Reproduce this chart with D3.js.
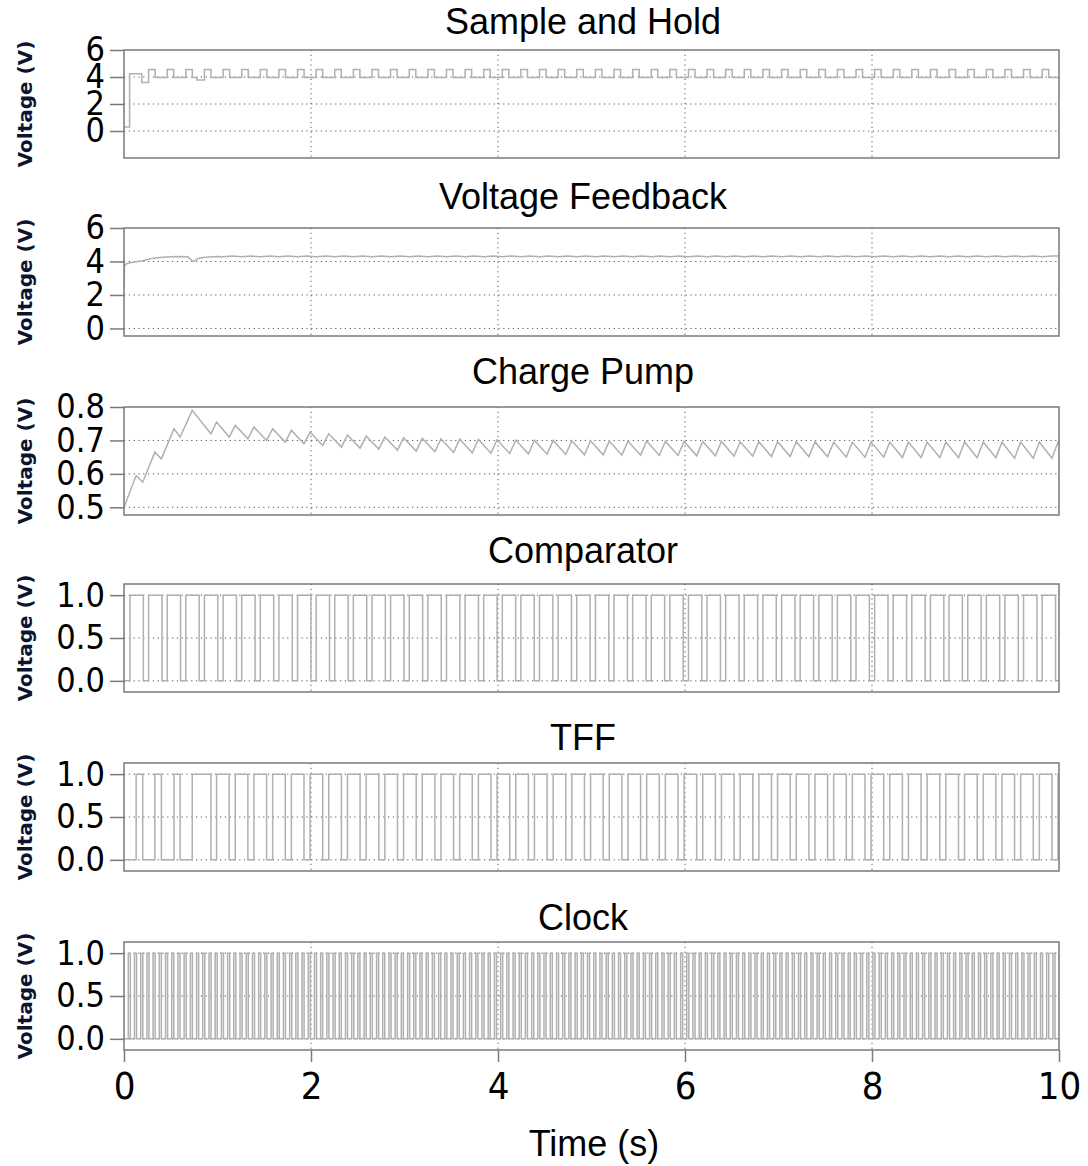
<!DOCTYPE html>
<html lang="en">
<head>
<meta charset="utf-8">
<title>Simulation traces</title>
<script src="https://d3js.org/d3.v7.min.js"></script>
<style>
  body { margin: 0; background: #fff; }
  .title { font-family: "Liberation Sans", Arial, sans-serif; font-size: 36px; fill: #000; text-anchor: middle; }
  .ylabel { font-family: "DejaVu Sans", Verdana, sans-serif; font-weight: bold; font-size: 20px; fill: #0b1530; text-anchor: middle; }
  .axis text { font-family: "DejaVu Sans Condensed", "DejaVu Sans", sans-serif; font-size: 34px; fill: #000; }
  .axis line { stroke: #7a7a7a; stroke-width: 1.5; }
  .axis path { display: none; }
  .grid { stroke: #555; stroke-width: 1; stroke-dasharray: 1.2,3.6; }
  .frame { fill: none; stroke: #7a7a7a; stroke-width: 1.5; }
  .signal { fill: none; stroke: #b0b0b0; stroke-width: 1.5; }
</style>
</head>
<body>
<script>

// Panel titles, axis ticks
var panelTitles = ["Sample and Hold", "Voltage Feedback", "Charge Pump", "Comparator", "TFF", "Clock"];
var timeTicks = [0, 2, 4, 6, 8, 10];
var yTickSets = [[0, 2, 4, 6], [0, 2, 4, 6], [0.5, 0.6, 0.7, 0.8], [0, 0.5, 1], [0, 0.5, 1], [0, 0.5, 1]];
var yDomains = [[-2, 6], [-0.45, 6], [0.477, 0.8], [-0.13, 1.13], [-0.13, 1.13], [-0.13, 1.13]];

// Comparator: rising edges (s) and time spent high
var comparatorRise = [0.064, 0.263, 0.462, 0.661, 0.860, 1.060, 1.259, 1.458, 1.657, 1.856,
  2.055, 2.254, 2.453, 2.652, 2.851, 3.051, 3.250, 3.449, 3.648, 3.847,
  4.046, 4.245, 4.444, 4.643, 4.842, 5.042, 5.241, 5.440, 5.639, 5.838,
  6.037, 6.236, 6.435, 6.634, 6.833, 7.033, 7.232, 7.431, 7.630, 7.829,
  8.028, 8.227, 8.426, 8.625, 8.824, 9.024, 9.223, 9.422, 9.621, 9.820];
var comparatorHigh = 0.143;

// Clock: rising edges (s) and pulse width
var clockRise = [0.046, 0.112, 0.179, 0.245, 0.311, 0.378, 0.444, 0.511, 0.577, 0.643, 0.710, 0.776,
  0.842, 0.909, 0.975, 1.042, 1.108, 1.174, 1.241, 1.307, 1.374, 1.440, 1.506, 1.573,
  1.639, 1.705, 1.772, 1.838, 1.904, 1.971, 2.037, 2.103, 2.170, 2.236, 2.302, 2.369,
  2.435, 2.501, 2.568, 2.634, 2.701, 2.767, 2.834, 2.900, 2.966, 3.033, 3.099, 3.165,
  3.232, 3.298, 3.365, 3.431, 3.497, 3.564, 3.630, 3.696, 3.763, 3.829, 3.895, 3.962,
  4.028, 4.094, 4.161, 4.227, 4.293, 4.360, 4.426, 4.492, 4.559, 4.626, 4.692, 4.758,
  4.825, 4.891, 4.957, 5.024, 5.090, 5.157, 5.223, 5.289, 5.356, 5.422, 5.488, 5.555,
  5.621, 5.687, 5.754, 5.820, 5.886, 5.953, 6.019, 6.085, 6.152, 6.218, 6.285, 6.351,
  6.418, 6.484, 6.550, 6.617, 6.683, 6.749, 6.816, 6.882, 6.949, 7.015, 7.081, 7.148,
  7.214, 7.280, 7.347, 7.413, 7.479, 7.546, 7.612, 7.678, 7.745, 7.811, 7.877, 7.944,
  8.010, 8.077, 8.143, 8.210, 8.276, 8.342, 8.409, 8.475, 8.541, 8.608, 8.674, 8.741,
  8.807, 8.873, 8.940, 9.006, 9.072, 9.139, 9.205, 9.271, 9.338, 9.404, 9.470, 9.537,
  9.603, 9.669, 9.736, 9.802, 9.868, 9.935];
var clockHigh = 0.022;

// TFF edges (s)
var tffRise = [0.13, 0.33, 0.535, 0.73, 0.99, 1.19, 1.39, 1.59, 1.79, 1.99, 2.19, 2.39, 2.59, 2.79,
  2.99, 3.19, 3.39, 3.59, 3.79, 3.99, 4.19, 4.39, 4.59, 4.79, 4.99, 5.19, 5.39, 5.59, 5.79,
  5.99, 6.19, 6.39, 6.59, 6.79, 6.99, 7.19, 7.39, 7.59, 7.79, 7.99, 8.19, 8.39, 8.59, 8.79,
  8.99, 9.19, 9.39, 9.59, 9.79, 9.99];
var tffFall = [0.2, 0.4, 0.6, 0.93, 1.125, 1.325, 1.525, 1.725, 1.925, 2.125, 2.325, 2.525, 2.725,
  2.925, 3.125, 3.325, 3.525, 3.725, 3.925, 4.125, 4.325, 4.525, 4.725, 4.925, 5.125, 5.325,
  5.525, 5.725, 5.925, 6.125, 6.325, 6.525, 6.725, 6.925, 7.125, 7.325, 7.525, 7.725, 7.925,
  8.125, 8.325, 8.525, 8.725, 8.925, 9.125, 9.325, 9.525, 9.725, 9.925];

// Charge pump: value at each TFF rise (peaks) and fall (troughs), V
var pumpStart = 0.5;
var pumpPeak = [0.595, 0.665, 0.735, 0.79, 0.755, 0.745, 0.74, 0.735, 0.73, 0.725, 0.72, 0.716,
  0.713, 0.71, 0.708, 0.706, 0.705, 0.704, 0.703, 0.702, 0.701, 0.70, 0.70, 0.699, 0.699,
  0.698, 0.698, 0.698, 0.697, 0.697, 0.697, 0.697, 0.696, 0.696, 0.696, 0.696, 0.696, 0.695,
  0.695, 0.695, 0.695, 0.695, 0.695, 0.695, 0.695, 0.695, 0.695, 0.695, 0.695, 0.695];
var pumpTrough = [0.575, 0.645, 0.71, 0.72, 0.71, 0.705, 0.70, 0.695, 0.69, 0.685, 0.68, 0.677,
  0.674, 0.671, 0.668, 0.666, 0.664, 0.663, 0.662, 0.661, 0.66, 0.659, 0.658, 0.657, 0.657,
  0.656, 0.656, 0.655, 0.655, 0.654, 0.654, 0.653, 0.653, 0.652, 0.652, 0.651, 0.651, 0.65,
  0.65, 0.65, 0.649, 0.649, 0.649, 0.648, 0.648, 0.648, 0.647, 0.647, 0.647];
var pumpEnd = 0.692;

// Sample and hold: start-up steps, then top level held after each comparator rise
var holdStartTimes = [0, 0.06, 0.19, 0.78];
var holdStartValues = [0.3, 4.25, 3.6, 3.78];
var holdTop = 4.55, holdLow = 3.97, holdTopWidth = 0.07;

// Voltage feedback: start-up, then small ripple
var feedbackTimes = [0, 0.005, 0.02, 0.09, 0.2, 0.31, 0.42, 0.56, 0.68, 0.74, 0.8, 0.87, 1.0];
var feedbackValues = [2.4, 3.7, 3.85, 3.95, 4.05, 4.2, 4.25, 4.3, 4.28, 4.0, 4.2, 4.25, 4.3];
var feedbackRippleLow = 4.28, feedbackRippleHigh = 4.33;

//Layout
var w = 1088, h = 1166;
var left = 124, right = 1059;
var panelTop = [50, 228, 407, 584, 763, 942];
var panelH = 108;
var titleY = [34, 209, 384, 563, 750, 930];

function pulseTrain(rises, width) {
  var pts = [[0, 0]];
  rises.forEach(function(r) {
    pts.push([r, 1]);
    if (r + width < 10) pts.push([r + width, 0]);
  });
  pts.push([10, pts[pts.length - 1][1]]);
  return pts;
}

function byTime(a, b) { return a[0] - b[0]; }

// build traces
var compPts = pulseTrain(comparatorRise, comparatorHigh);
var clockPts = pulseTrain(clockRise, clockHigh);

var tffPts = [[0, 0]].concat(tffRise.map(function(t) { return [t, 1]; }),
                             tffFall.map(function(t) { return [t, 0]; })).sort(byTime);
tffPts.push([10, tffPts[tffPts.length - 1][1]]);

var pumpPts = [[0, pumpStart]].concat(tffRise.map(function(t, i) { return [t, pumpPeak[i]]; }),
                                      tffFall.map(function(t, i) { return [t, pumpTrough[i]]; })).sort(byTime);
pumpPts.push([10, pumpEnd]);

var holdPts = holdStartTimes.map(function(t, i) { return [t, holdStartValues[i]]; });
comparatorRise.slice(1).forEach(function(r) {
  holdPts.push([r, holdTop]);
  holdPts.push([r + holdTopWidth, holdLow]);
});
holdPts.sort(byTime);
holdPts.push([10, holdPts[holdPts.length - 1][1]]);

var fbPts = feedbackTimes.map(function(t, i) { return [t, feedbackValues[i]]; });
comparatorRise.slice(5).forEach(function(r) {
  fbPts.push([r, feedbackRippleLow]);
  if (r + 0.1 < 10) fbPts.push([r + 0.1, feedbackRippleHigh]);
});
fbPts.push([10, feedbackRippleHigh]);

var traces = [holdPts, fbPts, pumpPts, compPts, tffPts, clockPts];
var stepped = [true, false, false, true, true, true];
var formats = [d3.format("d"), d3.format("d"), d3.format(".1f"), d3.format(".1f"), d3.format(".1f"), d3.format(".1f")];

var svg = d3.select("body").append("svg")
  .attr("width", w)
  .attr("height", h);

svg.append("rect").attr("width", w).attr("height", h).attr("fill", "#fff");

var xScale = d3.scaleLinear().domain([0, 10]).range([left, right]);

panelTitles.forEach(function(title, i) {
  var top = panelTop[i];
  var yScale = d3.scaleLinear().domain(yDomains[i]).range([top + panelH, top]);
  var g = svg.append("g");

  g.append("clipPath").attr("id", "clip" + i)
    .append("rect")
    .attr("x", left).attr("y", top)
    .attr("width", right - left).attr("height", panelH);

  // dotted grid
  g.selectAll(".hgrid")
    .data(yTickSets[i].filter(function(v) { return yScale(v) > top + 1; }))
    .enter().append("line")
    .attr("class", "grid")
    .attr("x1", left).attr("x2", right)
    .attr("y1", function(d) { return yScale(d); })
    .attr("y2", function(d) { return yScale(d); });

  g.selectAll(".vgrid")
    .data(timeTicks.slice(1, -1))
    .enter().append("line")
    .attr("class", "grid")
    .attr("x1", function(d) { return xScale(d); })
    .attr("x2", function(d) { return xScale(d); })
    .attr("y1", top).attr("y2", top + panelH);

  var line = d3.line()
    .x(function(d) { return xScale(d[0]); })
    .y(function(d) { return yScale(d[1]); })
    .curve(stepped[i] ? d3.curveStepAfter : d3.curveLinear);

  g.append("path")
    .datum(traces[i])
    .attr("class", "signal")
    .attr("clip-path", "url(#clip" + i + ")")
    .attr("d", line);

  g.append("rect")
    .attr("class", "frame")
    .attr("x", left).attr("y", top)
    .attr("width", right - left).attr("height", panelH);

  var yAxis = d3.axisLeft(yScale)
    .tickValues(yTickSets[i])
    .tickSize(14)
    .tickPadding(5)
    .tickFormat(formats[i]);

  g.append("g")
    .attr("class", "axis")
    .attr("transform", "translate(" + left + ",0)")
    .call(yAxis);

  g.append("text")
    .attr("class", "title")
    .attr("x", 583)
    .attr("y", titleY[i])
    .text(title);

  g.append("text")
    .attr("class", "ylabel")
    .attr("transform", "translate(32," + (top + panelH / 2) + ") rotate(-90)")
    .text("Voltage (V)");
});

// time axis under the last panel
var xAxis = d3.axisBottom(xScale)
  .tickValues(timeTicks)
  .tickSize(12)
  .tickPadding(10)
  .tickFormat(d3.format("d"));

svg.append("g")
  .attr("class", "axis xaxis")
  .attr("transform", "translate(0," + (panelTop[5] + panelH) + ")")
  .call(xAxis)
  .selectAll("text")
  .style("font-size", "38px");

svg.append("text")
  .attr("class", "title")
  .attr("x", 594)
  .attr("y", 1156)
  .text("Time (s)");

</script>
</body>
</html>
